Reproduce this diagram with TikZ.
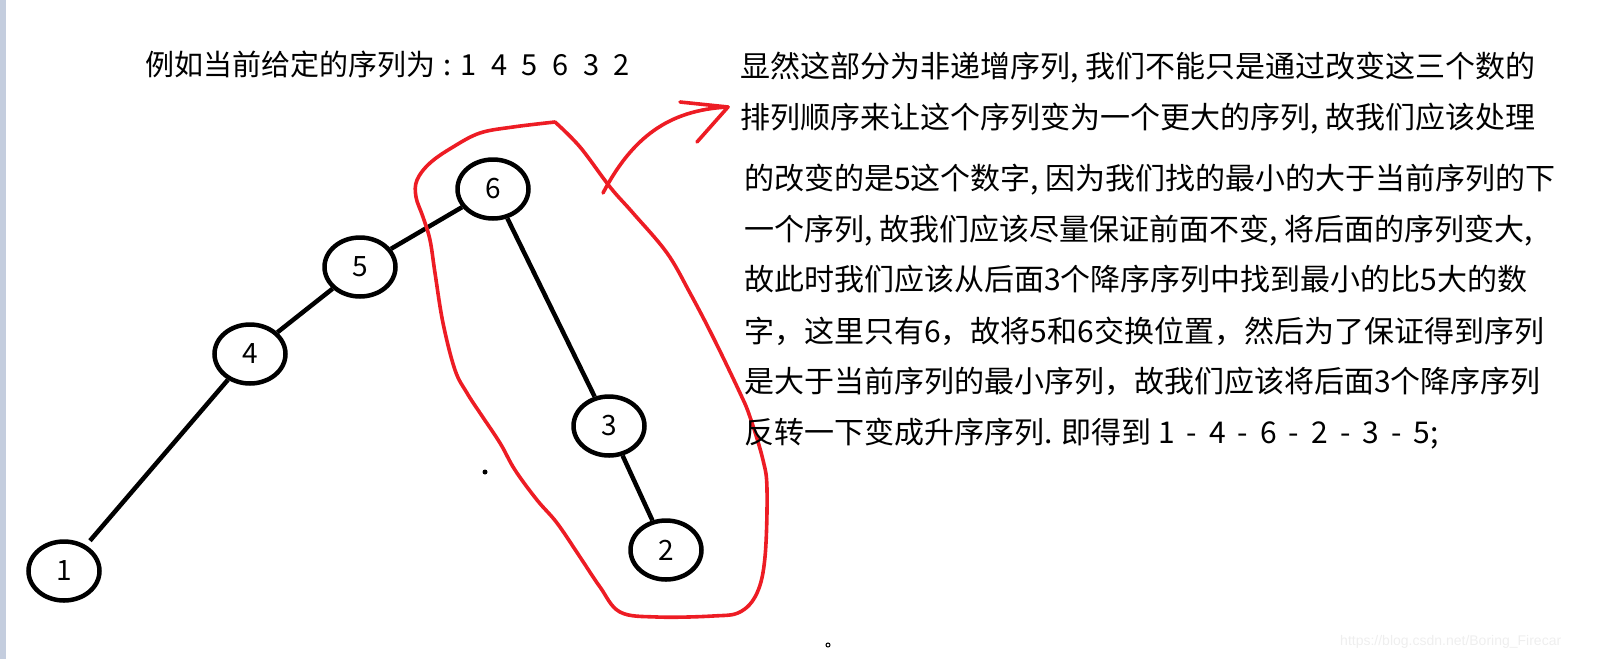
\documentclass[tikz,border=0pt]{standalone}
\usepackage{fontspec}
\setmainfont{Noto Sans CJK SC}
\newfontfamily\markfont{Liberation Sans}
\usetikzlibrary{shapes,positioning}
\definecolor{penred}{RGB}{237,28,36}
\definecolor{barblue}{RGB}{196,205,222}
\definecolor{markgray}{RGB}{238,238,238}

\begin{document}
\begin{tikzpicture}[x=1pt, y=-1pt,
    num/.style={ellipse, draw=black, line width=4.5pt, minimum width=71pt, minimum height=59pt, inner sep=0pt, font=\fontsize{28}{30}\selectfont},
    link/.style={line width=4.5pt},
    pen/.style={draw=penred, line width=3.6pt, line cap=round, line join=round},
    txt/.style={anchor=base west, inner sep=0pt, font=\fontsize{30}{36}\selectfont}]
	  \useasboundingbox (0,0) rectangle (1600,659);
	  \fill[barblue] (0,0) rectangle (6,659);
	  \node[txt, font=\fontsize{29}{34}\selectfont] (title) at (145,75) {例如当前给定的序列为\hspace{.3em}:\hspace{.3em}1\hspace{.5em}4\hspace{.5em}5\hspace{.5em}6\hspace{.5em}3\hspace{.5em}2};
	  \node[num] (n1) at (64,571) {1};
	  \node[num] (n4) at (250,354) {4};
	  \node[num] (n5) at (360,267) {5};
	  \node[num] (n6) at (493,189) {6};
	  \node[num] (n3) at (609,426) {3};
	  \node[num] (n2) at (666,550) {2};
	  \draw[link, shorten <=6pt] (n1) -- (n4);
	  \draw[link] (n4) -- (n5);
	  \draw[link] (n5) -- (n6);
	  \draw[link] (n6) -- (n3);
	  \draw[link] (n3) -- (n2);
	  \fill (485,472) circle (2.5pt);
	  \draw[line width=1pt] (828,645) circle (2pt);
	  \draw[pen] plot[smooth, tension=0.6] coordinates {(555,122) (513,127) (480,133) (453,147) (430,163) (417,180) (416,197) (423,217) (430,240) (435,273) (443,323) (455,370) (467,393) (480,413) (500,443) (515,470) (537,500) (557,523) (580,557) (600,587) (620,612) (657,617) (713,616) (740,612) (757,593) (765,557) (767,490) (763,460) (750,417) (740,393) (713,337) (690,293) (667,253) (633,213) (610,187) (580,147) (555,122)};
	  \coordinate (hook) at (603,193);
	  \coordinate (tip) at (728,107);
	  \draw[pen] (hook) .. controls (632,138) and (668,110) .. (tip);
	  \draw[pen] (tip) ++(-48,-5) -- (tip) -- ++(-31,35);
	  \node[txt] (l1) at (740,77) {显然这部分为非递增序列, 我们不能只是通过改变这三个数的};
	  \node[txt] (l2) at (740,128) {排列顺序来让这个序列变为一个更大的序列, 故我们应该处理};
	  \node[txt] (l3) at (744,189) {的改变的是5这个数字, 因为我们找的最小的大于当前序列的下};
	  \node[txt] (l4) at (744,240) {一个序列, 故我们应该尽量保证前面不变, 将后面的序列变大,};
	  \node[txt] (l5) at (744,290) {故此时我们应该从后面3个降序序列中找到最小的比5大的数};
	  \node[txt] (l6) at (744,342) {字，这里只有6，故将5和6交换位置，然后为了保证得到序列};
	  \node[txt] (l7) at (744,392) {是大于当前序列的最小序列，故我们应该将后面3个降序序列};
	  \node[txt] (l8) at (744,443) {反转一下变成升序序列. 即得到 1\hspace{.4em}-\hspace{.4em}4\hspace{.4em}-\hspace{.4em}6\hspace{.4em}-\hspace{.4em}2\hspace{.4em}-\hspace{.4em}3\hspace{.4em}-\hspace{.4em}5;};
	  \node[anchor=base west, inner sep=0pt, text=markgray, font=\markfont\fontsize{14}{16}\selectfont] (mark) at (1340,645) {https://blog.csdn.net/Boring\_Firecar};
	\end{tikzpicture}
\end{document}
